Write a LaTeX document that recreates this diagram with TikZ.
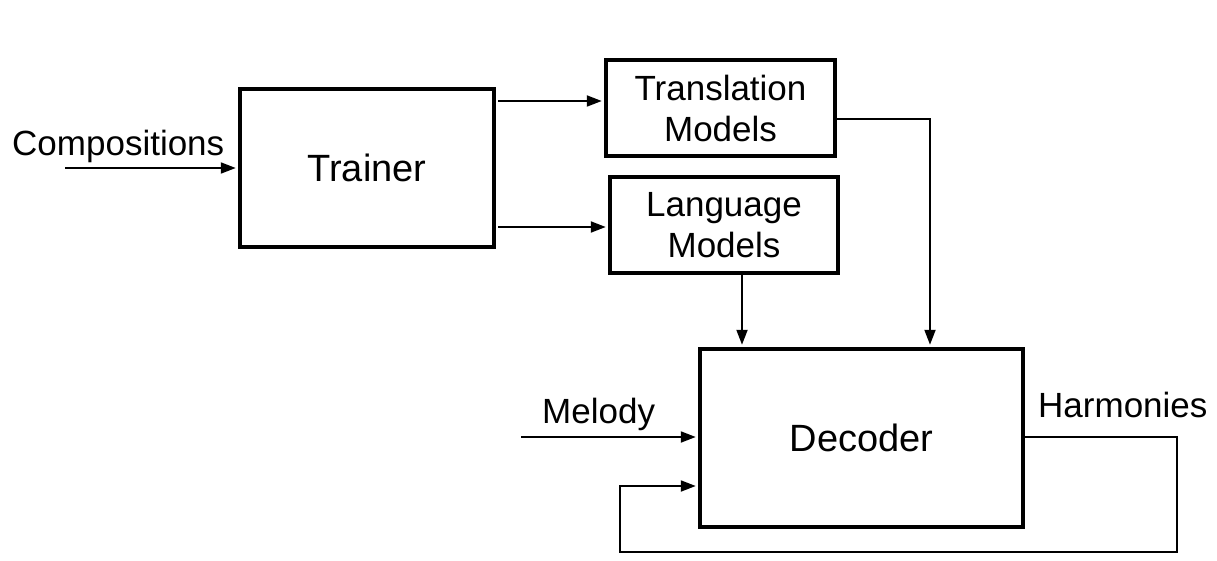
\documentclass[tikz,border=0pt]{standalone}
\usepackage{fontspec}
\setmainfont{Liberation Sans}
\usetikzlibrary{arrows.meta,calc}
\begin{document}
\begin{tikzpicture}[x=1pt,y=-1pt,
  box/.style={draw,line width=4.5pt,inner sep=0pt,align=center,font=\fontsize{35}{41}\selectfont},
  big/.style={font=\fontsize{38}{46}\selectfont},
  conn/.style={line width=2pt,-{Triangle[length=15pt,width=11pt]}},
  lbl/.style={inner sep=0pt,font=\fontsize{35}{41}\selectfont}]
\useasboundingbox[fill=white] (0,0) rectangle (1217,561);
\node[box,big,minimum width=254pt,minimum height=158pt] (trainer) at (367,168) {Trainer};
\node[box,minimum width=229pt,minimum height=96pt] (tm) at (720.5,108) {Translation\\Models};
\node[box,minimum width=228pt,minimum height=96pt] (lm) at (724,225) {Language\\Models};
\node[box,big,minimum width=323pt,minimum height=178pt] (dec) at (861.5,438) {Decoder};
\node[lbl,anchor=base west] (comp) at (12,156) {Compositions};
\node[lbl,anchor=base west] (mel) at (542,423) {Melody};
\node[lbl,anchor=base west] (harm) at (1038,417) {Harmonies};
\coordinate (cin) at (65,168);
\coordinate (t1) at (498,101);
\coordinate (t2) at (498,227);
\coordinate (tmc) at (930,119);
\coordinate (lmx) at (742,0);
\coordinate (min) at (521,437);
\coordinate (fr) at (1177,552);
\coordinate (fl) at (620,486);
\draw[conn,shorten >=2pt] (cin) -- (cin -| trainer.west);
\draw[conn,shorten >=2pt] (t1) -- (t1 -| tm.west);
\draw[conn,shorten >=2pt] (t2) -- (t2 -| lm.west);
\draw[conn,shorten >=2pt] (tm.east |- tmc) -- (tmc) -- (tmc |- dec.north);
\draw[conn,shorten >=2pt] (lmx |- lm.south) -- (lmx |- dec.north);
\draw[conn,shorten >=2pt] (min) -- (min -| dec.west);
\draw[conn,shorten >=2pt] (dec.east |- min) -- (dec.east |- min -| fr) -- (fr) -- (fr -| fl) -- (fl) -- (fl -| dec.west);
\end{tikzpicture}
\end{document}
